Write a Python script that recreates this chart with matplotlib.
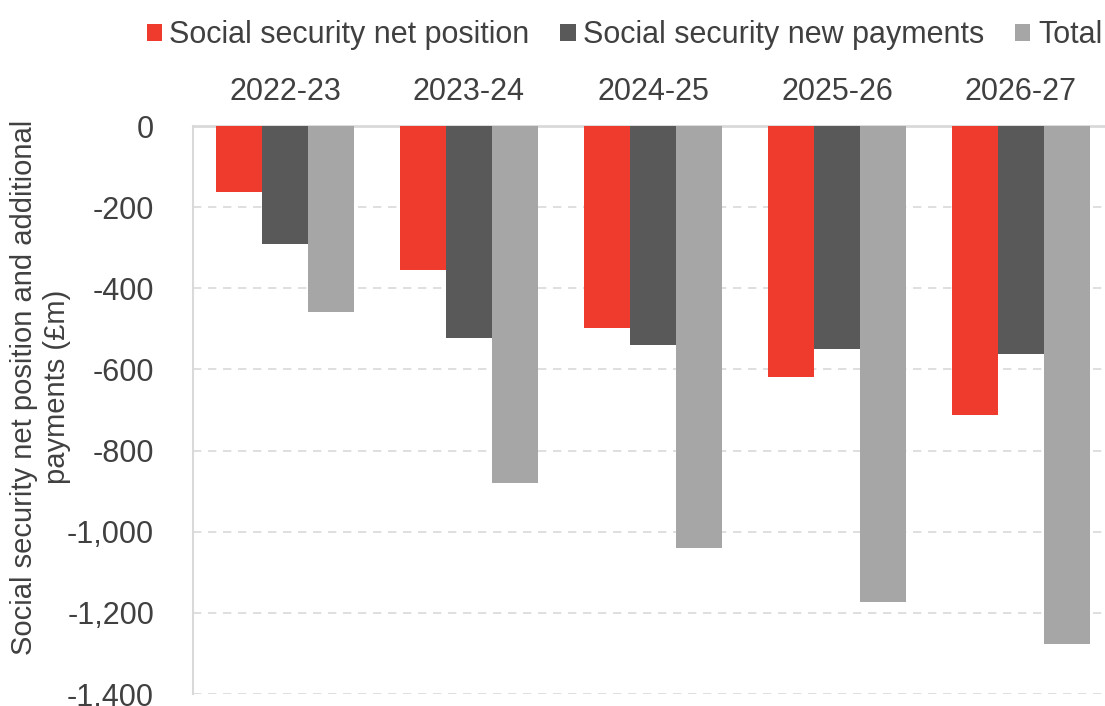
import numpy as np
import matplotlib
matplotlib.use("Agg")
import matplotlib.pyplot as plt
from matplotlib.ticker import FuncFormatter

# Social security figures by financial year (£m)
years = ["2022-23", "2023-24", "2024-25", "2025-26", "2026-27"]
net_position = [-163, -356, -497, -619, -712]
new_payments = [-292, -523, -539, -550, -561]
total = [-458, -879, -1040, -1173, -1276]

series_names = ["Social security net position", "Social security new payments", "Total"]
series_colors = ["#EE3B2E", "#595959", "#A6A6A6"]
text_color = "#404040"
grid_color = "#D9D9D9"

plt.rcParams["font.family"] = ["Liberation Sans", "DejaVu Sans"]

fig = plt.figure(figsize=(11.05, 7.06), dpi=100)
ax = fig.add_axes([193 / 1105, 12 / 706, 920 / 1105, 568 / 706])

x = np.arange(len(years))
width = 0.25
for i, (vals, name, col) in enumerate(zip([net_position, new_payments, total], series_names, series_colors)):
    ax.bar(x + (i - 1) * width, vals, width, color=col, label=name, zorder=3)

ax.set_xlim(-0.5, len(years) - 0.5)
ax.set_ylim(-1400, 0)
ax.set_yticks(np.arange(-1400, 1, 200))
ax.yaxis.set_major_formatter(FuncFormatter(lambda v, p: f"{int(v):,}"))
ax.grid(axis="y", color=grid_color, linestyle=(0, (5, 4)), linewidth=1.2, zorder=0)

ax.xaxis.tick_top()
ax.set_xticks(x)
ax.set_xticklabels(years)
ax.tick_params(axis="x", length=0, pad=14, labelsize=22, labelcolor=text_color)
ax.tick_params(axis="y", length=0, pad=28, labelsize=22, labelcolor=text_color)

for side in ["right", "bottom"]:
    ax.spines[side].set_visible(False)
ax.spines["left"].set_color(grid_color)
ax.spines["left"].set_linewidth(1.5)
ax.spines["top"].set_color(grid_color)
ax.spines["top"].set_linewidth(2)

ax.set_ylabel("Social security net position and additional\npayments (£m)",
              fontsize=21, color=text_color, linespacing=1.2)
ax.yaxis.set_label_coords(-0.133, 0.54)

fig.legend(loc="upper center", bbox_to_anchor=(0.565, 1.01), ncol=3, frameon=False,
           fontsize=22, handlelength=0.5, handleheight=0.5, handletextpad=0.25,
           columnspacing=1.0, labelcolor=text_color)

fig.savefig("out.png", dpi=100)
